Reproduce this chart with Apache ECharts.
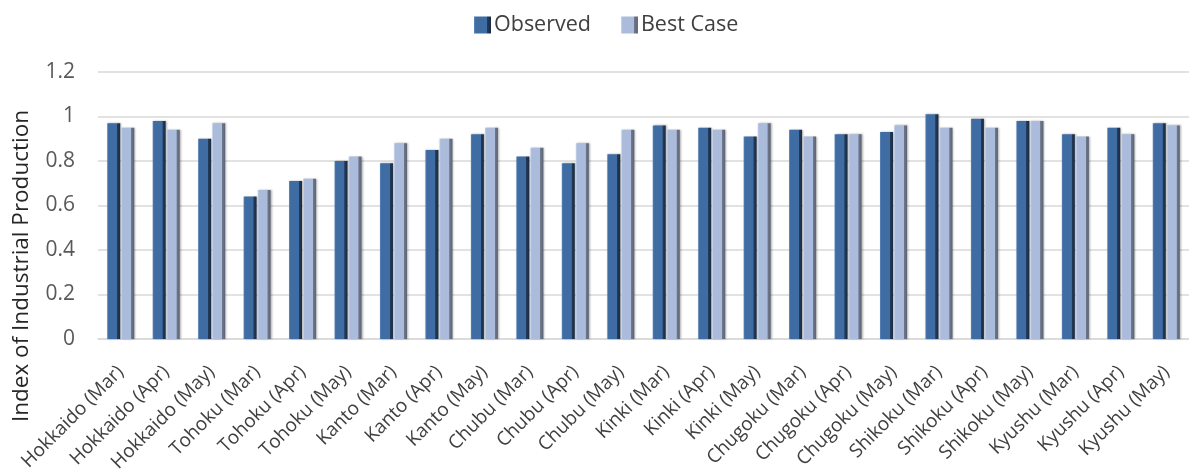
<!DOCTYPE html>
<html>
<head>
<meta charset="utf-8">
<script src="https://cdn.jsdelivr.net/npm/echarts@6/dist/echarts.min.js"></script>
<style>
  html, body { margin: 0; padding: 0; background: #fff; }
  #chart { width: 1189px; height: 476px; }
</style>
</head>
<body>
<div id="chart"></div>
<script>
// Regional index of industrial production, observed vs. best case
const categories = [
  'Hokkaido (Mar)', 'Hokkaido (Apr)', 'Hokkaido (May)',
  'Tohoku (Mar)', 'Tohoku (Apr)', 'Tohoku (May)',
  'Kanto (Mar)', 'Kanto (Apr)', 'Kanto (May)',
  'Chubu (Mar)', 'Chubu (Apr)', 'Chubu (May)',
  'Kinki (Mar)', 'Kinki (Apr)', 'Kinki (May)',
  'Chugoku (Mar)', 'Chugoku (Apr)', 'Chugoku (May)',
  'Shikoku (Mar)', 'Shikoku (Apr)', 'Shikoku (May)',
  'Kyushu (Mar)', 'Kyushu (Apr)', 'Kyushu (May)'
];
const observed = [
  0.97, 0.98, 0.90,
  0.64, 0.71, 0.80,
  0.79, 0.85, 0.92,
  0.82, 0.79, 0.83,
  0.96, 0.95, 0.91,
  0.94, 0.92, 0.93,
  1.01, 0.99, 0.98,
  0.92, 0.95, 0.97
];
const bestCase = [
  0.95, 0.94, 0.97,
  0.67, 0.72, 0.82,
  0.88, 0.90, 0.95,
  0.86, 0.88, 0.94,
  0.94, 0.94, 0.97,
  0.91, 0.92, 0.96,
  0.95, 0.95, 0.98,
  0.91, 0.92, 0.96
];
const yTicks = [0, 0.2, 0.4, 0.6, 0.8, 1, 1.2];
const yTitle = 'Index of Industrial Production';

const font = '"Open Sans", "Noto Sans", sans-serif';

// horizontal gradients giving the bars a bevelled look
function bevel(light, body, edge, dark) {
  return new echarts.graphic.LinearGradient(0, 0, 1, 0, [
    { offset: 0, color: light },
    { offset: 0.1, color: body },
    { offset: 0.74, color: body },
    { offset: 0.78, color: edge },
    { offset: 1, color: dark }
  ]);
}
const observedFill = bevel('#5f88bd', '#3f6ca3', '#223a5a', '#1b2b40');
const bestFill = bevel('#cdd8ee', '#aabbdb', '#6f788a', '#5c6474');

const chart = echarts.init(document.getElementById('chart'), null, { renderer: 'canvas' });
chart.setOption({
  animation: false,
  backgroundColor: '#ffffff',
  legend: {
    top: 9,
    left: 469,
    itemWidth: 17,
    itemHeight: 17,
    itemGap: 30,
    icon: 'rect',
    textStyle: { fontFamily: font, fontSize: 21.5, color: '#404040', padding: [0, 0, 0, -2] },
    data: ['Observed', 'Best Case']
  },
  graphic: [{
    type: 'text',
    x: 22,
    y: 266,
    rotation: Math.PI / 2,
    style: {
      text: yTitle,
      fontFamily: font,
      fontSize: 22.5,
      fill: '#262626',
      align: 'center',
      verticalAlign: 'middle'
    }
  }],
  grid: { left: 98, top: 72, width: 1105, height: 267, containLabel: false },
  xAxis: {
    type: 'category',
    data: categories,
    axisTick: { show: false },
    axisLine: { lineStyle: { color: '#d9d9d9', width: 1.5 } },
    axisLabel: {
      interval: 0,
      rotate: 45,
      margin: 30,
      fontFamily: font,
      fontSize: 19,
      color: '#404040'
    }
  },
  yAxis: {
    type: 'value',
    min: yTicks[0],
    max: yTicks[yTicks.length - 1],
    interval: 0.2,
    axisLine: { show: false },
    axisTick: { show: false },
    splitLine: { lineStyle: { color: '#d9d9d9', width: 1.5 } },
    axisLabel: {
      margin: 23,
      fontFamily: font,
      fontSize: 21,
      color: '#595959',
      formatter: v => String(Math.round(v * 10) / 10)
    }
  },
  series: [
    {
      name: 'Observed',
      type: 'bar',
      data: observed,
      barWidth: 13,
      barGap: '8%',
      itemStyle: {
        color: observedFill,
        shadowColor: 'rgba(0,0,0,0.3)',
        shadowBlur: 2,
        shadowOffsetX: 1
      }
    },
    {
      name: 'Best Case',
      type: 'bar',
      data: bestCase,
      barWidth: 13,
      itemStyle: {
        color: bestFill,
        shadowColor: 'rgba(0,0,0,0.3)',
        shadowBlur: 2,
        shadowOffsetX: 1
      }
    }
  ]
});
</script>
</body>
</html>
